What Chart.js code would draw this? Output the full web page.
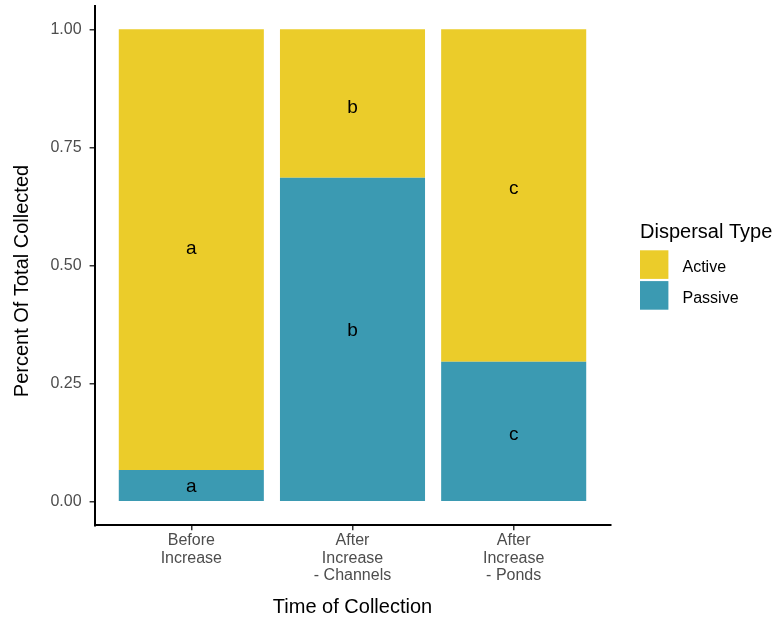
<!DOCTYPE html>
<html>
<head>
<meta charset="utf-8">
<script src="https://cdn.jsdelivr.net/npm/chart.js@4/dist/chart.umd.min.js"></script>
<style>
  html, body { margin: 0; padding: 0; background: #fff; }
  #wrap { width: 775px; height: 617px; }
</style>
</head>
<body>
<div id="wrap"><canvas id="c" width="775" height="617"></canvas></div>
<script>
// Collection periods (multi-line axis labels)
const categories = [
  ["Before", "Increase"],
  ["After", "Increase", "- Channels"],
  ["After", "Increase", "- Ponds"]
];
// Share of individuals collected, by dispersal type
const passive = [0.067, 0.686, 0.296];
const active  = [0.933, 0.314, 0.704];
// Y axis tick values
const yTicks = [0, 0.25, 0.50, 0.75, 1.00];
// Significance-group letters and where they sit (in data units)
const groupLetters   = ["a", "b", "c"];
const letterYActive  = [0.536, 0.833, 0.663];
const letterYPassive = [0.032, 0.361, 0.141];

const FONT = "'Liberation Sans', Arial, Helvetica, sans-serif";
Chart.defaults.font.family = FONT;

const COL_ACTIVE = "#EBCC2A";
const COL_PASSIVE = "#3B9AB2";

const overlay = {
  id: "overlay",
  afterDatasetsDraw(chart) {
    const ctx = chart.ctx;
    const xs = chart.scales.x, ys = chart.scales.y;
    ctx.save();
    // group letters inside each stacked segment
    ctx.fillStyle = "#000";
    ctx.font = "19px " + FONT;
    ctx.textAlign = "center";
    ctx.textBaseline = "middle";
    groupLetters.forEach((l, i) => {
      const x = xs.getPixelForValue(i + 1);
      ctx.fillText(l, x, ys.getPixelForValue(letterYActive[i]));
      ctx.fillText(l, x, ys.getPixelForValue(letterYPassive[i]));
    });
    ctx.restore();
  },
  afterDraw(chart) {
    const ctx = chart.ctx;
    ctx.save();
    // y axis title
    ctx.translate(22.6, 281);
    ctx.rotate(-Math.PI / 2);
    ctx.fillStyle = "#000";
    ctx.font = "20px " + FONT;
    ctx.textAlign = "center";
    ctx.textBaseline = "middle";
    ctx.fillText("Percent Of Total Collected", 0, 0);
    ctx.restore();

    // legend: Active listed first, then Passive
    ctx.save();
    ctx.fillStyle = "#000";
    ctx.font = "20px " + FONT;
    ctx.textAlign = "left";
    ctx.textBaseline = "alphabetic";
    ctx.fillText("Dispersal Type", 640, 238.3);
    const order = [1, 0];
    order.forEach((di, k) => {
      const ds = chart.data.datasets[di];
      const top = 250.3 + k * 30.8;
      ctx.fillStyle = ds.backgroundColor;
      ctx.fillRect(640, top, 28.4, 28.6);
      ctx.fillStyle = "#000";
      ctx.font = "16px " + FONT;
      ctx.fillText(ds.label, 682.5, top + 21.8);
    });
    ctx.restore();
  }
};

const tickFont = { family: FONT, size: 16, lineHeight: 1.08 };

new Chart(document.getElementById("c"), {
  type: "bar",
  data: {
    datasets: [
      { label: "Passive", data: passive.map((v, i) => ({ x: i + 1, y: v })), backgroundColor: COL_PASSIVE, borderWidth: 0 },
      { label: "Active",  data: active.map((v, i) => ({ x: i + 1, y: v })),  backgroundColor: COL_ACTIVE,  borderWidth: 0 }
    ]
  },
  options: {
    responsive: false,
    animation: false,
    devicePixelRatio: 1,
    layout: { padding: { left: 0, top: 5.7, right: 164.6, bottom: 0 } },
    datasets: { bar: { barPercentage: 0.9, categoryPercentage: 1.0 } },
    plugins: { legend: { display: false }, tooltip: { enabled: false } },
    scales: {
      x: {
        type: "linear",
        min: 0.4, max: 3.6,
        stacked: true,
        offset: false,
        afterBuildTicks: s => { s.ticks = categories.map((c, i) => ({ value: i + 1 })); },
        afterFit: s => { s.height = 91.7; s.paddingLeft = 0; s.paddingRight = 0; },
        grid: { display: true, offset: false, drawOnChartArea: false, drawTicks: true, tickLength: 5, color: "#333", lineWidth: 1.5 },
        border: { display: true, color: "#000", width: 2 },
        ticks: {
          autoSkip: false, maxRotation: 0, minRotation: 0, padding: 2,
          color: "#4D4D4D", font: tickFont,
          callback: v => categories[Math.round(v) - 1]
        },
        title: { display: true, text: "Time of Collection", color: "#000", font: { family: FONT, size: 20, lineHeight: 1 }, padding: 0 }
      },
      y: {
        min: -0.05, max: 1.05,
        stacked: true,
        afterBuildTicks: s => { s.ticks = yTicks.map(v => ({ value: v })); },
        afterFit: s => { s.width = 94.6; s.paddingTop = 0; s.paddingBottom = 0; },
        grid: { display: true, offset: false, drawOnChartArea: false, drawTicks: true, tickLength: 5, color: "#333", lineWidth: 1.5 },
        border: { display: true, color: "#000", width: 2 },
        ticks: {
          padding: 8, color: "#4D4D4D", font: { family: FONT, size: 16 },
          callback: v => Number(v).toFixed(2)
        },
        title: { display: false }
      }
    }
  },
  plugins: [overlay]
});
</script>
</body>
</html>
